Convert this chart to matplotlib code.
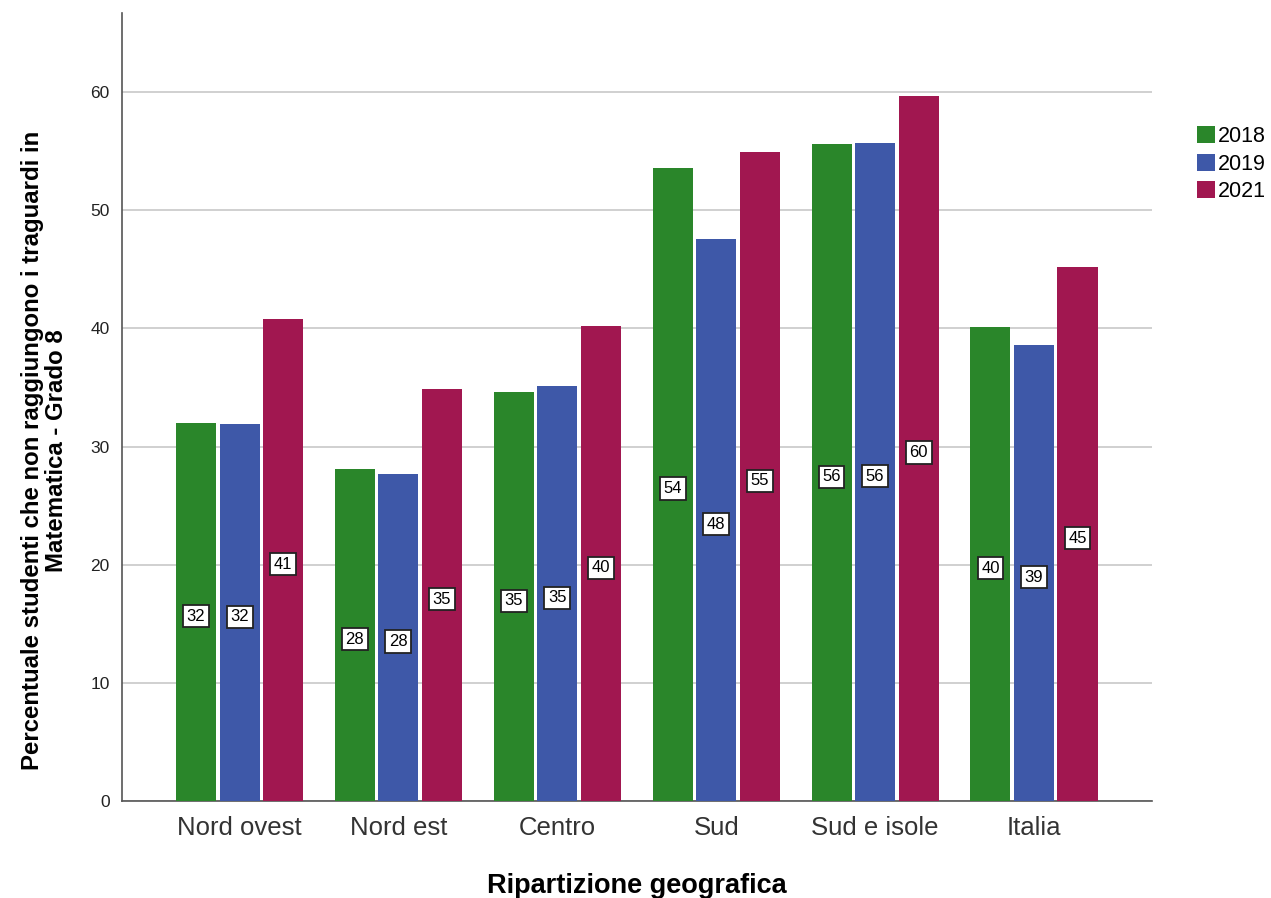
import matplotlib
matplotlib.use("Agg")
import matplotlib.pyplot as plt
import numpy as np

plt.rcParams['font.family'] = ['Liberation Sans', 'DejaVu Sans']

categories = ["Nord ovest", "Nord est", "Centro", "Sud", "Sud e isole", "Italia"]
years = ["2018", "2019", "2021"]
v2018 = [32.0, 28.1, 34.6, 53.6, 55.6, 40.1]
v2019 = [31.9, 27.7, 35.1, 47.6, 55.7, 38.6]
v2021 = [40.8, 34.9, 40.2, 54.9, 59.7, 45.2]
series = [v2018, v2019, v2021]
colors = ["#2a862a", "#3e58a8", "#a11750"]

fig = plt.figure(figsize=(12.71, 8.98), dpi=100)
ax = fig.add_axes([0.096, 0.108, 0.81, 0.8775])

x = np.arange(len(categories))
step = 0.274
w = 0.252
for i, (vals, c, yr) in enumerate(zip(series, colors, years)):
    pos = x + (i - 1) * step
    ax.bar(pos, vals, width=w, color=c, edgecolor="none", label=yr, zorder=3)
    for p, v in zip(pos, vals):
        ax.annotate(f"{round(v):d}", (p, v / 2), xytext=(0, -3), textcoords="offset points",
                    ha="center", va="center", fontsize=12,
                    bbox=dict(boxstyle="square,pad=0.22", fc="white", ec="#222222", lw=1.3), zorder=5)

ax.set_xlim(-0.74, 5.74)
ax.set_ylim(0, 66.7)
ax.set_yticks([0, 10, 20, 30, 40, 50, 60])
ax.yaxis.grid(True, color="#c8c8c8", linewidth=1.2, zorder=0)
ax.set_xticks(x)
ax.set_xticklabels(categories, fontsize=18.5, color="#333333")
ax.tick_params(axis="y", labelsize=12.5, length=0, pad=9, labelcolor="#222222")
ax.tick_params(axis="x", length=0, pad=11)
for s in ["top", "right"]:
    ax.spines[s].set_visible(False)
for s in ["left", "bottom"]:
    ax.spines[s].set_color("#555555")
    ax.spines[s].set_linewidth(1.2)

ax.set_xlabel("Ripartizione geografica", fontsize=19.5, fontweight="bold")
ax.xaxis.set_label_coords(0.5, -0.091)
ax.set_ylabel("Percentuale studenti che non raggiungono i traguardi in\nMatematica - Grado 8",
              fontsize=17.3, fontweight="bold", linespacing=1.08,
              family=['Liberation Sans Narrow', 'Liberation Sans', 'DejaVu Sans'])
ax.yaxis.set_label_coords(-0.052, 0.445)

fig.legend(loc="upper left", bbox_to_anchor=(0.9418, 0.8595), frameon=False, fontsize=15.5,
           handlelength=0.84, handleheight=0.84, handletextpad=0.15, labelspacing=0.3,
           borderaxespad=0, borderpad=0)

fig.savefig("out.png", dpi=100)
